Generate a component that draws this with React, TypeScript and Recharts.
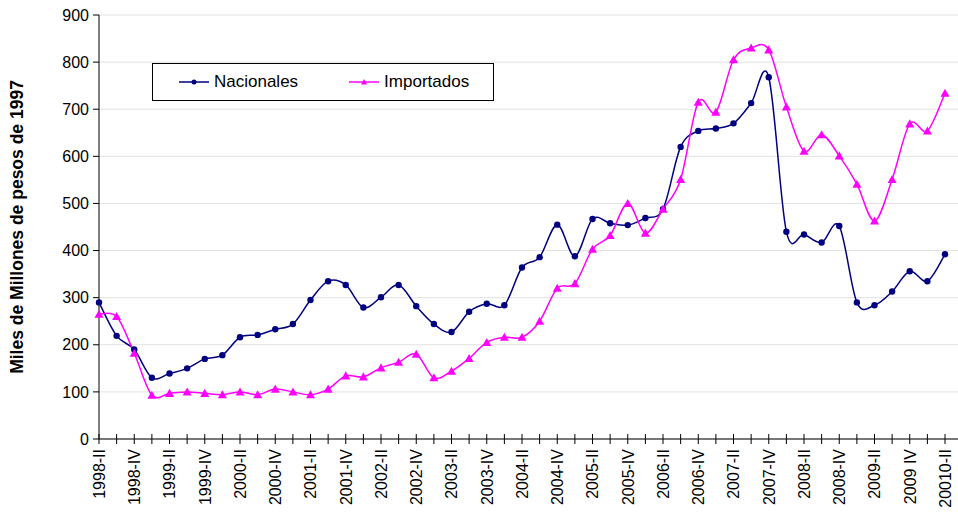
import React from "react";
import {
  LineChart,
  Line,
  XAxis,
  YAxis,
  CartesianGrid,
  Legend,
} from "recharts";

// Trimestres (etiqueta visible solo en los pares)
const QUARTERS = [
  "1998-II", "1998-III", "1998-IV", "1999-I", "1999-II", "1999-III", "1999-IV",
  "2000-I", "2000-II", "2000-III", "2000-IV", "2001-I", "2001-II", "2001-III", "2001-IV",
  "2002-I", "2002-II", "2002-III", "2002-IV", "2003-I", "2003-II", "2003-III", "2003-IV",
  "2004-I", "2004-II", "2004-III", "2004-IV", "2005-I", "2005-II", "2005-III", "2005-IV",
  "2006-I", "2006-II", "2006-III", "2006-IV", "2007-I", "2007-II", "2007-III", "2007-IV",
  "2008-I", "2008-II", "2008-III", "2008-IV", "2009-I", "2009-II", "2009-III", "2009 IV",
  "2010-I", "20010-II",
];

const NACIONALES = [
  290, 219, 190, 130, 139, 150, 170, 178, 216, 221, 233, 244, 295, 335, 327, 279,
  301, 327, 282, 244, 227, 270, 287, 284, 364, 386, 455, 388, 467, 458, 454, 469,
  488, 620, 654, 659, 670, 713, 768, 440, 434, 417, 452, 290, 284, 313, 356, 335,
  392,
];

const IMPORTADOS = [
  265, 260, 182, 93, 97, 100, 97, 94, 100, 94, 106, 100, 94, 106, 134, 132,
  151, 163, 180, 130, 144, 171, 205, 216, 216, 250, 320, 330, 403, 432, 500, 437,
  488, 551, 715, 694, 805, 830, 826, 705, 611, 646, 601, 541, 463, 551, 669, 654,
  734,
];

const Y_TICKS = [0, 100, 200, 300, 400, 500, 600, 700, 800, 900];

const NAVY = "#000080";
const MAGENTA = "#FF00FF";
const FONT = "'Liberation Sans', Arial, sans-serif";

const data = QUARTERS.map((q, i) => ({
  q,
  nacionales: NACIONALES[i],
  importados: IMPORTADOS[i],
}));

// curva suavizada tipo Excel (Catmull-Rom)
function smoothCurve(context: any) {
  let pts: [number, number][] = [];
  return {
    areaStart() {},
    areaEnd() {},
    lineStart() {
      pts = [];
    },
    lineEnd() {
      const n = pts.length;
      if (!n) return;
      context.moveTo(pts[0][0], pts[0][1]);
      const t = 1 / 6;
      for (let i = 0; i < n - 1; i++) {
        const p0 = pts[Math.max(i - 1, 0)];
        const p1 = pts[i];
        const p2 = pts[i + 1];
        const p3 = pts[Math.min(i + 2, n - 1)];
        context.bezierCurveTo(
          p1[0] + (p2[0] - p0[0]) * t,
          p1[1] + (p2[1] - p0[1]) * t,
          p2[0] - (p3[0] - p1[0]) * t,
          p2[1] - (p3[1] - p1[1]) * t,
          p2[0],
          p2[1]
        );
      }
    },
    point(x: number, y: number) {
      pts.push([+x, +y]);
    },
  };
}

function Triangle({ cx, cy, fill, size = 4.5 }: any) {
  if (cx == null || cy == null) return null;
  return (
    <polygon
      points={`${cx},${cy - size} ${cx - size},${cy + size * 0.8} ${cx + size},${cy + size * 0.8}`}
      fill={fill}
    />
  );
}

// tick que cruza el eje + etiqueta vertical cada dos trimestres
function QuarterTick({ x, y, index, payload }: any) {
  return (
    <g>
      <line x1={x} x2={x} y1={y - 15} y2={y - 5} stroke="#000" strokeWidth={1} />
      {index % 2 === 0 && (
        <text
          x={x}
          y={y}
          transform={`rotate(-90, ${x}, ${y})`}
          textAnchor="end"
          dy="0.36em"
          fontSize={16}
          fill="#000"
        >
          {payload.value}
        </text>
      )}
    </g>
  );
}

function LegendBox() {
  return (
    <div
      style={{
        width: 340,
        height: 36,
        border: "1px solid #000",
        background: "#fff",
        display: "flex",
        alignItems: "center",
        fontSize: 17,
        fontFamily: FONT,
        color: "#000",
      }}
    >
      <svg width={30} height={12} style={{ marginLeft: 26 }}>
        <line x1={0} x2={30} y1={6} y2={6} stroke={NAVY} strokeWidth={1.5} />
        <circle cx={15} cy={6} r={2.5} fill={NAVY} />
      </svg>
      <span style={{ marginLeft: 5 }}>Nacionales</span>
      <svg width={30} height={12} style={{ marginLeft: 51 }}>
        <line x1={0} x2={30} y1={6} y2={6} stroke={MAGENTA} strokeWidth={1.5} />
        <Triangle cx={15} cy={6} fill={MAGENTA} size={3} />
      </svg>
      <span style={{ marginLeft: 5 }}>Importados</span>
    </div>
  );
}

export default function App() {
  return (
    <div style={{ position: "absolute", left: 0, top: 0, background: "#fff" }}>
      <LineChart
        width={958}
        height={514}
        data={data}
        margin={{ top: 15, right: 0, bottom: 0, left: 0 }}
        style={{ fontFamily: FONT }}
      >
        <CartesianGrid vertical={false} stroke="#e2e2e2" strokeWidth={1} />
        <XAxis
          dataKey="q"
          interval={0}
          height={75}
          tickSize={5}
          tickMargin={5}
          tickLine={false}
          axisLine={{ stroke: "#000" }}
          padding={{ left: 0, right: 13 }}
          tick={<QuarterTick />}
        />
        <YAxis
          width={99}
          domain={[0, 900]}
          ticks={Y_TICKS}
          interval={0}
          tickSize={6}
          tickMargin={4}
          axisLine={{ stroke: "#000" }}
          tickLine={{ stroke: "#000" }}
          tick={{ fill: "#000", fontSize: 16 }}
          label={{
            value: "Miles de Millones de pesos de 1997",
            angle: -90,
            position: "insideLeft",
            offset: 17,
            style: { textAnchor: "middle", fontWeight: "bold", fontSize: 17.5, fill: "#000" },
          }}
        />
        <Legend
          layout="horizontal"
          verticalAlign="middle"
          align="center"
          content={<LegendBox />}
          wrapperStyle={{ left: 152, top: 63, width: 342, height: 38 }}
        />
        <Line
          dataKey="nacionales"
          name="Nacionales"
          type={smoothCurve as any}
          stroke={NAVY}
          strokeWidth={1.5}
          dot={{ r: 3.2, fill: NAVY, stroke: "none" }}
          activeDot={false}
          isAnimationActive={false}
        />
        <Line
          dataKey="importados"
          name="Importados"
          type={smoothCurve as any}
          stroke={MAGENTA}
          strokeWidth={1.5}
          dot={(p: any) => <Triangle key={`t-${p.index}`} cx={p.cx} cy={p.cy} fill={MAGENTA} />}
          activeDot={false}
          isAnimationActive={false}
        />
      </LineChart>
    </div>
  );
}
